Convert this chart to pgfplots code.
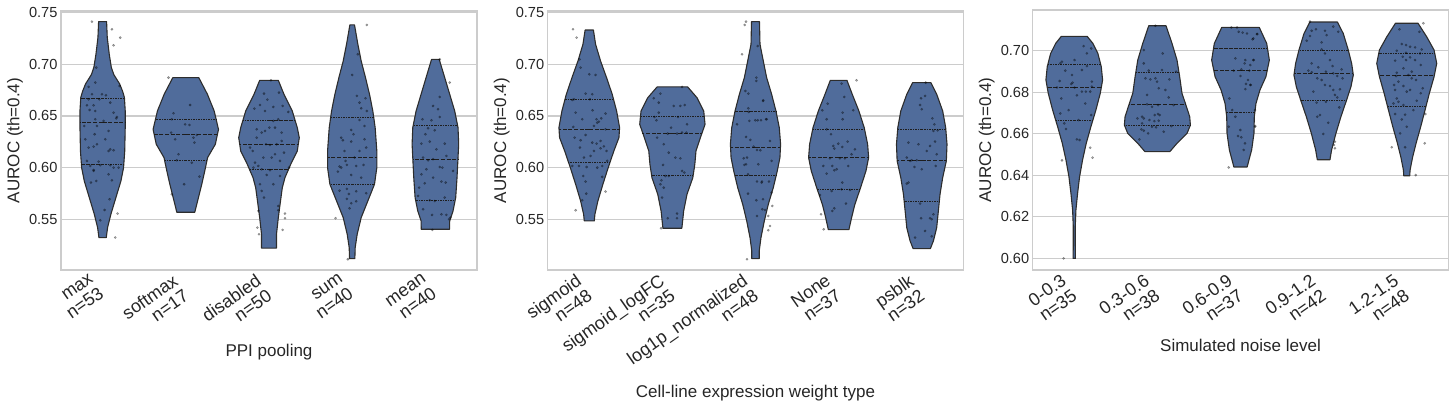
\documentclass[border=0pt]{standalone}
\usepackage{pgfplots}
\pgfplotsset{compat=1.18}
\usepackage{pgfplotstable}
\usepackage{fontspec}
\setmainfont{Liberation Sans}
\definecolor{vfill}{RGB}{80,108,155}
\definecolor{vedge}{RGB}{45,45,45}
\definecolor{qline}{RGB}{30,30,30}
\definecolor{gridc}{RGB}{204,204,204}
\definecolor{txt}{RGB}{38,38,38}

% ---------- violin outlines: y, half-width ----------
\pgfplotstableread[row sep=\\]{y w\\ 0.5322 0.044\\ 0.542 0.060\\ 0.555 0.100\\ 0.571 0.160\\ 0.587 0.220\\ 0.600 0.252\\ 0.616 0.266\\ 0.639 0.272\\ 0.655 0.272\\ 0.668 0.262\\ 0.674 0.240\\ 0.681 0.205\\ 0.690 0.135\\ 0.697 0.105\\ 0.7097 0.080\\ 0.726 0.056\\ 0.7413 0.048\\}\vAa
\pgfplotstableread[row sep=\\]{y w\\ 0.5568 0.108\\ 0.571 0.152\\ 0.5839 0.192\\ 0.5968 0.228\\ 0.6097 0.262\\ 0.6226 0.355\\ 0.637 0.393\\ 0.6548 0.341\\ 0.671 0.260\\ 0.6871 0.156\\}\vAb
\pgfplotstableread[row sep=\\]{y w\\ 0.522 0.090\\ 0.5355 0.090\\ 0.5516 0.112\\ 0.571 0.144\\ 0.5806 0.160\\ 0.5903 0.192\\ 0.6032 0.261\\ 0.6161 0.340\\ 0.629 0.364\\ 0.6387 0.340\\ 0.6548 0.280\\ 0.671 0.180\\ 0.6845 0.112\\}\vAc
\pgfplotstableread[row sep=\\]{y w\\ 0.5119 0.032\\ 0.5226 0.036\\ 0.5355 0.060\\ 0.5516 0.108\\ 0.5677 0.188\\ 0.5839 0.268\\ 0.600 0.296\\ 0.6161 0.296\\ 0.6387 0.276\\ 0.6548 0.248\\ 0.671 0.208\\ 0.6871 0.160\\ 0.7032 0.108\\ 0.7194 0.068\\ 0.7381 0.028\\}\vAd
\pgfplotstableread[row sep=\\]{y w\\ 0.5403 0.170\\ 0.5484 0.172\\ 0.558 0.212\\ 0.571 0.244\\ 0.5903 0.260\\ 0.6226 0.280\\ 0.6387 0.272\\ 0.6548 0.232\\ 0.671 0.172\\ 0.6871 0.112\\ 0.7048 0.046\\}\vAe

\pgfplotstableread[row sep=\\]{y w\\ 0.5484 0.060\\ 0.5548 0.068\\ 0.5677 0.104\\ 0.5839 0.164\\ 0.6 0.228\\ 0.6161 0.296\\ 0.629 0.357\\ 0.6387 0.365\\ 0.6548 0.329\\ 0.671 0.276\\ 0.6871 0.208\\ 0.7032 0.136\\ 0.7194 0.076\\ 0.7332 0.050\\}\vBa
\pgfplotstableread[row sep=\\]{y w\\ 0.5413 0.114\\ 0.5581 0.136\\ 0.5742 0.176\\ 0.5903 0.246\\ 0.6032 0.270\\ 0.6161 0.284\\ 0.629 0.337\\ 0.6419 0.393\\ 0.6548 0.377\\ 0.6677 0.296\\ 0.6781 0.184\\}\vBb
\pgfplotstableread[row sep=\\]{y w\\ 0.5119 0.045\\ 0.5194 0.045\\ 0.5323 0.066\\ 0.5484 0.106\\ 0.5645 0.154\\ 0.5806 0.214\\ 0.5968 0.262\\ 0.6097 0.294\\ 0.6226 0.302\\ 0.6387 0.286\\ 0.6548 0.246\\ 0.671 0.194\\ 0.6871 0.134\\ 0.7032 0.094\\ 0.7194 0.054\\ 0.7413 0.048\\}\vBc
\pgfplotstableread[row sep=\\]{y w\\ 0.54 0.124\\ 0.5516 0.156\\ 0.5645 0.196\\ 0.5806 0.264\\ 0.5968 0.329\\ 0.6097 0.361\\ 0.6226 0.349\\ 0.6387 0.308\\ 0.6548 0.244\\ 0.671 0.164\\ 0.6845 0.100\\}\vBd
\pgfplotstableread[row sep=\\]{y w\\ 0.5216 0.104\\ 0.529 0.140\\ 0.5419 0.180\\ 0.5581 0.200\\ 0.5742 0.220\\ 0.5903 0.252\\ 0.6065 0.296\\ 0.6226 0.304\\ 0.6387 0.288\\ 0.6548 0.252\\ 0.671 0.180\\ 0.6823 0.110\\}\vBe

\pgfplotstableread[row sep=\\]{y w\\ 0.600 0.014\\ 0.6072 0.012\\ 0.6153 0.012\\ 0.6233 0.020\\ 0.6313 0.040\\ 0.6393 0.064\\ 0.6474 0.100\\ 0.6554 0.144\\ 0.6634 0.200\\ 0.6714 0.260\\ 0.6795 0.313\\ 0.6859 0.341\\ 0.6923 0.325\\ 0.6987 0.284\\ 0.7035 0.224\\ 0.7069 0.156\\}\vCa
\pgfplotstableread[row sep=\\]{y w\\ 0.6514 0.150\\ 0.6554 0.236\\ 0.6602 0.357\\ 0.6642 0.397\\ 0.6682 0.389\\ 0.6746 0.337\\ 0.6795 0.296\\ 0.6875 0.268\\ 0.6955 0.236\\ 0.7035 0.176\\ 0.712 0.104\\}\vCb
\pgfplotstableread[row sep=\\]{y w\\ 0.644 0.080\\ 0.6474 0.102\\ 0.6522 0.134\\ 0.6602 0.162\\ 0.6682 0.166\\ 0.6746 0.186\\ 0.6811 0.234\\ 0.6875 0.306\\ 0.6955 0.347\\ 0.7035 0.315\\ 0.7112 0.226\\}\vCc
\pgfplotstableread[row sep=\\]{y w\\ 0.6475 0.076\\ 0.6522 0.096\\ 0.6602 0.148\\ 0.6682 0.208\\ 0.6762 0.276\\ 0.6827 0.329\\ 0.6883 0.357\\ 0.6939 0.337\\ 0.7003 0.297\\ 0.7083 0.236\\ 0.7138 0.166\\}\vCd
\pgfplotstableread[row sep=\\]{y w\\ 0.6398 0.036\\ 0.6425 0.040\\ 0.649 0.072\\ 0.6554 0.112\\ 0.6634 0.168\\ 0.6714 0.220\\ 0.6795 0.272\\ 0.6875 0.329\\ 0.6939 0.361\\ 0.7003 0.329\\ 0.7067 0.240\\ 0.7132 0.136\\}\vCe

% build closed outlines: right side upwards, then left side downwards (column s = signed half-width)
\newcommand{\mkv}[1]{%
  \pgfplotstablesort[sort key=y, sort cmp={float >}]{\tmprev}{#1}%
  \pgfplotstablecreatecol[expr={-\thisrow{w}}]{s}{\tmprev}%
  \pgfplotstablecreatecol[expr={\thisrow{w}}]{s}{#1}%
  \pgfplotstablevertcat{#1}{\tmprev}%
}
\mkv{\vAa}\mkv{\vAb}\mkv{\vAc}\mkv{\vAd}\mkv{\vAe}
\mkv{\vBa}\mkv{\vBb}\mkv{\vBc}\mkv{\vBd}\mkv{\vBe}
\mkv{\vCa}\mkv{\vCb}\mkv{\vCc}\mkv{\vCd}\mkv{\vCe}

% ---------- quartiles: upper (a), median (m), lower (b) with half-widths ----------
\pgfplotstableread[row sep=\\]{c qa wa qm wm qb wb\\
0 0.667 0.257 0.6439 0.272 0.6026 0.254\\
1 0.6468 0.364 0.6316 0.381 0.6071 0.255\\
2 0.6455 0.315 0.6219 0.351 0.598 0.233\\
3 0.6484 0.259 0.6094 0.296 0.5839 0.268\\
4 0.6406 0.267 0.6077 0.271 0.5677 0.236\\}\qA
\pgfplotstableread[row sep=\\]{c qa wa qm wm qb wb\\
0 0.6661 0.292 0.6371 0.364 0.6052 0.250\\
1 0.649 0.385 0.6332 0.360 0.5922 0.250\\
2 0.6545 0.247 0.6197 0.300 0.5922 0.245\\
3 0.6371 0.312 0.6094 0.360 0.579 0.257\\
4 0.6371 0.290 0.6071 0.296 0.5671 0.211\\}\qB
\pgfplotstableread[row sep=\\]{c qa wa qm wm qb wb\\
0 0.6934 0.318 0.6822 0.325 0.6666 0.224\\
1 0.6896 0.260 0.674 0.340 0.6642 0.397\\
2 0.701 0.325 0.6904 0.321 0.6703 0.173\\
3 0.70 0.299 0.6888 0.355 0.6758 0.273\\
4 0.6987 0.337 0.6881 0.332 0.6729 0.230\\}\qC

% ---------- strip points: category, jitter, value ----------
\pgfplotstableread[row sep=\\]{c dx y\\
0 -0.128 0.7413\\ 0 0.112 0.7339\\ 0 0.212 0.7258\\ 0 0.132 0.7184\\ 0 -0.076 0.6968\\ 0 -0.088 0.6823\\ 0 -0.168 0.6781\\ 0 -0.128 0.671\\ 0 -0.008 0.671\\ 0 0.04 0.67\\
0 -0.04 0.6661\\ 0 -0.168 0.6661\\ 0 -0.188 0.6603\\ 0 -0.108 0.6603\\ 0 -0.088 0.6548\\ 0 -0.156 0.6558\\ 0 0.092 0.6629\\ 0 0.204 0.679\\ 0 0.132 0.6532\\ 0 0.172 0.649\\
0 0.164 0.6477\\ 0 0.012 0.6452\\ 0 -0.088 0.6468\\ 0 -0.22 0.6403\\ 0 -0.096 0.6323\\ 0 -0.068 0.6226\\ 0 -0.108 0.6203\\ 0 -0.168 0.6194\\ 0 0.092 0.6177\\ 0 0.132 0.6168\\
0 0.072 0.6161\\ 0 -0.188 0.6065\\ 0 -0.048 0.6058\\ 0 0.092 0.6023\\ 0 -0.028 0.6023\\ 0 0.132 0.6\\ 0 -0.108 0.5977\\ 0 -0.108 0.5968\\ 0 0.072 0.5935\\ 0 0.112 0.5877\\
0 -0.14 0.5855\\ 0 -0.076 0.5871\\ 0 0.084 0.5694\\ 0 0.024 0.559\\ 0 0.18 0.5555\\ 0 -0.028 0.549\\ 0 0.152 0.5323\\ 0 -0.148 0.6016\\ 0 0.192 0.6\\ 0 -0.208 0.6274\\
0 0.032 0.6274\\ 0 -0.068 0.6403\\ 0 0.072 0.6355\\
1 -0.208 0.6871\\ 1 0.052 0.6606\\ 1 -0.148 0.6526\\ 1 -0.168 0.6468\\ 1 -0.008 0.6419\\ 1 0.044 0.6413\\ 1 -0.176 0.6339\\ 1 -0.128 0.6274\\ 1 0.092 0.629\\ 1 0.132 0.6316\\
1 0.104 0.6242\\ 1 -0.108 0.6071\\ 1 -0.02 0.5839\\ 1 0.164 0.5913\\ 1 -0.168 0.5742\\ 1 -0.088 0.6129\\ 1 0.072 0.6048\\
2 0.024 0.6845\\ 2 -0.06 0.6716\\ 2 -0.02 0.6658\\ 2 -0.108 0.6606\\ 2 -0.176 0.6571\\ 2 -0.048 0.6548\\ 2 0.052 0.6587\\ 2 0.12 0.6726\\ 2 0.164 0.6597\\ 2 0.232 0.6539\\
2 0.112 0.6468\\ 2 0.052 0.6452\\ 2 -0.148 0.6371\\ 2 -0.088 0.6339\\ 2 -0.048 0.6355\\ 2 0.004 0.6387\\ 2 0.072 0.6387\\ 2 0.152 0.6339\\ 2 -0.196 0.6161\\ 2 -0.228 0.6194\\
2 -0.036 0.6226\\ 2 0.012 0.6219\\ 2 0.092 0.6226\\ 2 0.152 0.6258\\ 2 0.18 0.6145\\ 2 -0.168 0.6048\\ 2 -0.128 0.6016\\ 2 -0.188 0.6\\ 2 -0.088 0.5984\\ 2 0.012 0.5974\\
2 -0.028 0.5929\\ 2 0.132 0.5919\\ 2 -0.088 0.5774\\ 2 -0.06 0.571\\ 2 -0.128 0.5581\\ 2 0.112 0.5629\\ 2 0.112 0.5587\\ 2 0.192 0.5555\\ 2 0.192 0.551\\ 2 0.164 0.5397\\
2 -0.14 0.5419\\ 2 -0.12 0.5355\\ 2 0.072 0.6129\\ 2 -0.068 0.6097\\ 2 0.032 0.6097\\ 2 -0.108 0.5839\\ 2 0.052 0.5839\\ 2 0.132 0.6065\\ 2 0.24 0.6\\ 2 -0.148 0.629\\
3 0.176 0.7381\\ 3 0.068 0.7097\\ 3 0.0 0.6897\\ 3 0.056 0.6694\\ 3 0.16 0.6671\\ 3 0.088 0.6629\\ 3 0.108 0.6574\\ 3 0.176 0.6548\\ 3 0.088 0.6461\\ 3 0.148 0.6403\\
3 -0.132 0.629\\ 3 -0.112 0.6265\\ 3 -0.012 0.6365\\ 3 0.016 0.6323\\ 3 -0.012 0.6252\\ 3 0.148 0.6274\\ 3 0.028 0.6097\\ 3 -0.08 0.6065\\ 3 -0.152 0.601\\ 3 -0.132 0.6\\
3 -0.064 0.6026\\ 3 0.048 0.6016\\ 3 0.136 0.6026\\ 3 -0.172 0.5961\\ 3 -0.012 0.5929\\ 3 0.108 0.5903\\ 3 -0.152 0.5777\\ 3 -0.064 0.5794\\ 3 0.048 0.5771\\ 3 0.168 0.5752\\
3 -0.04 0.5745\\ 3 -0.064 0.5697\\ 3 -0.012 0.5655\\ 3 0.048 0.5674\\ 3 -0.032 0.5606\\ 3 -0.2 0.551\\ 3 -0.052 0.5113\\ 3 0.088 0.6161\\ 3 -0.092 0.6161\\ 3 0.168 0.6194\\
4 0.052 0.7048\\ 4 0.172 0.6823\\ 4 0.052 0.6684\\ 4 -0.028 0.6597\\ 4 0.032 0.6565\\ 4 0.052 0.649\\ 4 -0.156 0.6468\\ 4 -0.048 0.6458\\ 4 -0.088 0.6381\\ 4 -0.12 0.6323\\
4 -0.008 0.6361\\ 4 -0.068 0.6252\\ 4 -0.168 0.6232\\ 4 0.112 0.6232\\ 4 0.012 0.6177\\ 4 -0.028 0.6081\\ 4 -0.088 0.6071\\ 4 -0.148 0.6097\\ 4 0.052 0.6006\\ 4 0.084 0.6\\
4 -0.168 0.5935\\ 4 -0.028 0.5903\\ 4 0.072 0.5865\\ 4 0.124 0.5855\\ 4 -0.128 0.5848\\ 4 -0.196 0.5806\\ 4 0.112 0.571\\ 4 -0.148 0.5597\\ 4 -0.068 0.5684\\ 4 -0.008 0.5677\\
4 -0.04 0.5542\\ 4 0.072 0.5548\\ 4 0.132 0.5542\\ 4 0.164 0.55\\ 4 0.18 0.5516\\ 4 -0.036 0.5397\\ 4 -0.208 0.5726\\ 4 0.212 0.5968\\ 4 -0.108 0.5984\\ 4 0.132 0.6113\\
}\pA
\pgfplotstableread[row sep=\\]{c dx y\\
0 -0.196 0.7339\\ 0 -0.152 0.7258\\ 0 -0.116 0.7048\\ 0 -0.104 0.6968\\ 0 0.0 0.6903\\ 0 0.076 0.6897\\ 0 0.036 0.671\\ 0 -0.044 0.6716\\ 0 0.008 0.6661\\ 0 -0.184 0.6661\\
0 -0.204 0.6655\\ 0 -0.164 0.6532\\ 0 0.04 0.6555\\ 0 0.196 0.6523\\ 0 -0.084 0.6468\\ 0 0.088 0.6468\\ 0 0.116 0.6445\\ 0 0.144 0.6477\\ 0 0.056 0.6403\\ 0 -0.192 0.6394\\
0 0.196 0.6371\\ 0 0.096 0.6435\\ 0 -0.176 0.629\\ 0 -0.104 0.6265\\ 0 -0.044 0.6316\\ 0 0.036 0.6242\\ 0 0.088 0.6232\\ 0 0.136 0.6258\\ 0 0.176 0.6206\\ 0 0.208 0.6161\\
0 0.016 0.6113\\ 0 -0.204 0.6016\\ 0 -0.124 0.6016\\ 0 -0.032 0.6006\\ 0 0.156 0.6016\\ 0 0.216 0.6065\\ 0 -0.072 0.5919\\ 0 0.156 0.591\\ 0 -0.044 0.5865\\ 0 -0.036 0.5748\\
0 -0.084 0.5684\\ 0 -0.164 0.5587\\ 0 0.196 0.5768\\ 0 0.136 0.6187\\ 0 -0.112 0.6194\\ 0 0.056 0.6161\\ 0 -0.064 0.6097\\ 0 0.096 0.6\\
1 0.116 0.6781\\ 1 -0.144 0.6716\\ 1 -0.224 0.6671\\ 1 -0.164 0.6629\\ 1 0.016 0.6597\\ 1 0.096 0.6597\\ 1 0.148 0.6606\\ 1 -0.164 0.6532\\ 1 -0.216 0.649\\ 1 -0.192 0.6458\\
1 0.068 0.649\\ 1 -0.016 0.6387\\ 1 0.056 0.6329\\ 1 0.116 0.6339\\ 1 0.168 0.6339\\ 1 -0.056 0.6329\\ 1 -0.184 0.629\\ 1 -0.044 0.6145\\ 1 0.096 0.609\\ 1 -0.112 0.6026\\
1 0.116 0.5968\\ 1 0.144 0.5952\\ 1 -0.084 0.5919\\ 1 -0.044 0.5919\\ 1 -0.132 0.5877\\ 1 -0.144 0.5839\\ 1 -0.104 0.5806\\ 1 -0.124 0.571\\ 1 -0.056 0.551\\ 1 0.056 0.5555\\
1 0.056 0.551\\ 1 -0.136 0.5413\\ 1 0.176 0.6419\\ 1 -0.104 0.6226\\ 1 0.036 0.6097\\
2 -0.114 0.7413\\ 2 -0.13 0.7381\\ 2 -0.162 0.7097\\ 2 0.026 0.7177\\ 2 0.01 0.6871\\ 2 0.01 0.6839\\ 2 -0.122 0.6742\\ 2 -0.086 0.6716\\ 2 -0.086 0.6574\\ 2 -0.082 0.6539\\
2 -0.074 0.6452\\ 2 -0.002 0.6458\\ 2 0.026 0.6458\\ 2 0.066 0.6458\\ 2 0.126 0.6468\\ 2 0.09 0.6645\\ 2 -0.222 0.6419\\ 2 -0.114 0.6297\\ 2 -0.062 0.6268\\ 2 -0.102 0.6097\\
2 -0.142 0.609\\ 2 -0.114 0.6032\\ 2 -0.134 0.6026\\ 2 -0.022 0.6203\\ 2 0.018 0.6171\\ 2 0.058 0.6168\\ 2 -0.09 0.5935\\ 2 -0.09 0.5748\\ 2 0.018 0.5865\\ 2 0.078 0.5865\\
2 0.01 0.5684\\ 2 0.09 0.5694\\ 2 0.018 0.5532\\ 2 -0.102 0.5113\\ 2 0.094 0.6652\\ 2 0.134 0.6468\\ 2 0.174 0.6258\\ 2 0.194 0.6065\\ 2 0.074 0.5855\\ 2 0.162 0.5865\\
2 0.194 0.5758\\ 2 0.082 0.5597\\ 2 0.114 0.559\\ 2 0.202 0.5629\\ 2 0.154 0.5532\\ 2 0.174 0.5435\\ 2 0.154 0.5394\\ 2 0.034 0.6032\\
3 0.216 0.6845\\ 3 0.036 0.6813\\ 3 0.068 0.6684\\ 3 -0.132 0.6619\\ 3 -0.196 0.6555\\ 3 0.048 0.6532\\ 3 0.176 0.6555\\ 3 -0.144 0.6468\\ 3 0.048 0.6468\\ 3 -0.144 0.6371\\
3 -0.092 0.6323\\ 3 0.108 0.6252\\ 3 -0.004 0.6232\\ 3 -0.064 0.621\\ 3 -0.052 0.6184\\ 3 0.044 0.62\\ 3 0.196 0.6177\\ 3 -0.104 0.609\\ 3 0.016 0.609\\ 3 0.076 0.609\\
3 -0.184 0.6016\\ 3 -0.076 0.6016\\ 3 0.116 0.6016\\ 3 -0.024 0.5984\\ 3 -0.052 0.5974\\ 3 -0.144 0.5942\\ 3 0.044 0.5855\\ 3 0.036 0.579\\ 3 0.136 0.5784\\ 3 -0.224 0.5735\\
3 0.088 0.5652\\ 3 -0.052 0.5606\\ 3 -0.076 0.5581\\ 3 -0.212 0.5548\\ 3 -0.18 0.5403\\ 3 -0.084 0.5774\\ 3 0.156 0.6129\\
4 0.048 0.6823\\ 4 -0.008 0.6671\\ 4 0.04 0.6694\\ 4 -0.02 0.6606\\ 4 0.0 0.6565\\ 4 0.128 0.6477\\ 4 0.152 0.6419\\ 4 0.192 0.6361\\ 4 0.14 0.6355\\ 4 -0.16 0.6242\\
4 -0.04 0.6226\\ 4 0.16 0.6252\\ 4 0.1 0.621\\ 4 -0.18 0.6097\\ 4 -0.12 0.6071\\ 4 -0.14 0.6065\\ 4 -0.06 0.6071\\ 4 -0.088 0.6006\\ 4 0.0 0.5984\\ 4 0.168 0.6016\\
4 -0.16 0.5855\\ 4 -0.18 0.5845\\ 4 -0.02 0.5652\\ 4 -0.008 0.551\\ 4 0.1 0.551\\ 4 0.12 0.55\\ 4 0.14 0.5548\\ 4 0.04 0.5387\\ 4 -0.08 0.5323\\ 4 0.12 0.5335\\
4 0.18 0.6129\\ 4 0.06 0.6161\\
}\pB
\pgfplotstableread[row sep=\\]{c dx y\\
0 0.112 0.7022\\ 0 0.152 0.6987\\ 0 0.204 0.7011\\ 0 -0.148 0.6947\\ 0 -0.168 0.6939\\ 0 -0.108 0.6904\\ 0 0.004 0.6955\\ 0 0.092 0.6907\\ 0 -0.028 0.6883\\ 0 -0.176 0.6854\\
0 -0.02 0.6846\\ 0 -0.036 0.684\\ 0 0.212 0.6851\\ 0 0.152 0.6926\\ 0 -0.208 0.6823\\ 0 0.004 0.6822\\ 0 0.092 0.6803\\ 0 0.192 0.6803\\ 0 0.14 0.6803\\ 0 0.032 0.6785\\
0 -0.156 0.677\\ 0 0.212 0.6827\\ 0 -0.168 0.6698\\ 0 -0.12 0.665\\ 0 0.204 0.669\\ 0 -0.1 0.6623\\ 0 0.032 0.6573\\ 0 0.064 0.657\\ 0 0.192 0.6533\\ 0 0.22 0.6485\\
0 -0.148 0.6472\\ 0 -0.128 0.6\\ 0 0.052 0.6666\\ 0 -0.068 0.6714\\ 0 0.132 0.6746\\
1 -0.024 0.712\\ 1 -0.164 0.7003\\ 1 0.064 0.6987\\ 1 -0.164 0.6939\\ 1 -0.104 0.6904\\ 1 -0.144 0.6867\\ 1 -0.084 0.6862\\ 1 -0.024 0.6867\\ 1 -0.004 0.6851\\ 1 0.016 0.6819\\
1 0.144 0.6862\\ 1 0.224 0.6899\\ 1 0.136 0.6775\\ 1 -0.124 0.6742\\ 1 0.008 0.6738\\ 1 0.196 0.6738\\ 1 -0.184 0.6682\\ 1 -0.164 0.6674\\ 1 -0.032 0.669\\ 1 0.028 0.669\\
1 -0.096 0.6666\\ 1 -0.036 0.6661\\ 1 0.016 0.6663\\ 1 -0.192 0.6621\\ 1 -0.164 0.6615\\ 1 -0.112 0.6602\\ 1 -0.216 0.6573\\ 1 -0.064 0.6634\\ 1 0.076 0.661\\ 1 0.168 0.6637\\
1 0.008 0.6695\\ 1 -0.064 0.673\\ 1 0.096 0.6811\\ 1 -0.124 0.6787\\ 1 0.056 0.6907\\ 1 -0.184 0.665\\ 1 -0.016 0.6631\\ 1 -0.24 0.6674\\
2 -0.11 0.7112\\ 2 -0.042 0.7112\\ 2 0.026 0.7087\\ 2 0.078 0.7083\\ 2 0.146 0.7055\\ 2 0.198 0.708\\ 2 -0.022 0.7091\\ 2 -0.062 0.6963\\ 2 0.058 0.6955\\ 2 0.05 0.6939\\
2 0.158 0.6955\\ 2 0.118 0.6931\\ 2 0.01 0.691\\ 2 -0.082 0.6904\\ 2 0.0 0.6878\\ 2 0.09 0.6859\\ 2 0.066 0.684\\ 2 0.118 0.6835\\ 2 0.058 0.6815\\ 2 -0.134 0.677\\
2 -0.142 0.6634\\ 2 -0.002 0.6618\\ 2 -0.03 0.6589\\ 2 0.01 0.6583\\ 2 0.038 0.6522\\ 2 -0.142 0.6438\\ 2 0.178 0.6637\\ 2 0.202 0.708\\ 2 0.154 0.7059\\ 2 0.154 0.6955\\
2 0.106 0.6904\\ 2 0.122 0.6835\\ 2 0.174 0.6634\\ 2 0.054 0.6554\\ 2 0.174 0.6714\\ 2 -0.1 0.6714\\ 2 -0.062 0.6682\\
3 -0.164 0.714\\ 3 -0.092 0.7103\\ 3 -0.144 0.7096\\ 3 0.016 0.7096\\ 3 0.116 0.7116\\ 3 0.176 0.7091\\ 3 -0.164 0.7071\\ 3 0.036 0.7075\\ 3 -0.204 0.7048\\ 3 -0.024 0.704\\
3 0.016 0.6987\\ 3 -0.024 0.7006\\ 3 -0.144 0.6939\\ 3 -0.064 0.692\\ 3 0.108 0.6926\\ 3 0.216 0.691\\ 3 0.028 0.6899\\ 3 -0.184 0.6904\\ 3 -0.144 0.6896\\ 3 0.116 0.6891\\
3 0.164 0.6878\\ 3 0.228 0.6867\\ 3 -0.076 0.6867\\ 3 -0.024 0.6859\\ 3 0.016 0.6835\\ 3 0.076 0.683\\ 3 0.116 0.6811\\ 3 0.196 0.6814\\ 3 0.136 0.6787\\ 3 0.164 0.6775\\
3 -0.084 0.675\\ 3 0.028 0.6754\\ 3 0.188 0.6727\\ 3 -0.044 0.669\\ 3 -0.076 0.6682\\ 3 0.056 0.6653\\ 3 -0.004 0.6599\\ 3 0.136 0.6562\\ 3 0.124 0.6546\\ 3 0.136 0.653\\
3 0.076 0.6955\\ 3 -0.124 0.6803\\
4 0.2 0.7132\\ 4 -0.088 0.7103\\ 4 0.152 0.7091\\ 4 -0.06 0.7032\\ 4 -0.008 0.7027\\ 4 0.04 0.7019\\ 4 0.1 0.7016\\ 4 0.18 0.7006\\ 4 0.16 0.6987\\ 4 -0.12 0.70\\
4 -0.008 0.699\\ 4 -0.048 0.6971\\ 4 0.04 0.6968\\ 4 -0.14 0.6952\\ 4 0.168 0.6931\\ 4 -0.008 0.6955\\ 4 -0.04 0.6915\\ 4 0.06 0.6899\\ 4 -0.12 0.6894\\ 4 0.02 0.6883\\
4 -0.128 0.6878\\ 4 -0.1 0.6851\\ 4 0.06 0.6867\\ 4 -0.04 0.683\\ 4 0.112 0.6859\\ 4 -0.152 0.6835\\ 4 0.192 0.6819\\ 4 -0.14 0.6811\\ 4 0.0 0.6803\\ 4 0.12 0.6759\\
4 -0.12 0.677\\ 4 0.168 0.6795\\ 4 -0.1 0.6754\\ 4 -0.04 0.6738\\ 4 -0.14 0.6695\\ 4 -0.02 0.6692\\ 4 -0.06 0.6669\\ 4 0.224 0.6695\\ 4 -0.08 0.6602\\ 4 -0.18 0.6535\\
4 -0.02 0.6535\\ 4 0.216 0.6554\\ 4 0.108 0.6401\\ 4 0.0 0.6634\\ 4 0.08 0.6714\\ 4 0.04 0.6811\\ 4 -0.16 0.6746\\ 4 0.1 0.6955\\
}\pC

\newcommand{\violin}[2]{%
  \addplot[fill=vfill, draw=vedge, line width=1.1pt, line join=round, mark=none, forget plot]
    table[x expr=#1+\thisrow{s}, y=y] {#2} -- cycle;
}
\newcommand{\quarts}[1]{%
  \addplot[draw=none, mark=none, forget plot, error bars/.cd, x dir=both, x explicit, error mark=none,
    error bar style={draw=qline, line width=1pt, dash pattern=on 1.6pt off 0.9pt}]
    table[x=c, y=qa, x error=wa] {#1};
  \addplot[draw=none, mark=none, forget plot, error bars/.cd, x dir=both, x explicit, error mark=none,
    error bar style={draw=qline, line width=1pt, dash pattern=on 4pt off 1.6pt}]
    table[x=c, y=qm, x error=wm] {#1};
  \addplot[draw=none, mark=none, forget plot, error bars/.cd, x dir=both, x explicit, error mark=none,
    error bar style={draw=qline, line width=1pt, dash pattern=on 1.6pt off 0.9pt}]
    table[x=c, y=qb, x error=wb] {#1};
}
\newcommand{\strip}[1]{%
  \addplot[only marks, mark=*, mark size=1.15pt, forget plot,
    mark options={draw=none, fill=black, opacity=0.33}]
    table[x expr=\thisrow{c}+\thisrow{dx}, y=y] {#1};
}

\pgfplotsset{panel/.style={
  scale only axis, anchor=south west,
  xmin=-0.5, xmax=4.5, xtick={0,1,2,3,4},
  ymajorgrids, grid style={gridc, line width=1.1pt},
  axis line style={gridc, line width=1.3pt},
  major tick length=0pt, tick style={draw=none},
  yticklabel style={font=\fontsize{14.6}{17.2}\selectfont, text=txt,
    /pgf/number format/fixed, /pgf/number format/fixed zerofill,
    /pgf/number format/precision=2, /pgf/number format/assume math mode=true},
  xticklabel style={font=\fontsize{18}{18.5}\selectfont, text=txt,
    inner sep=0pt, align=right, xshift=-14pt, yshift=-3pt, rotate=35, anchor=north east},
  every axis y label/.style={at={(axis description cs:0,0.5)}, xshift=-46pt, rotate=90, anchor=center,
    font=\fontsize{17}{20}\selectfont, text=txt},
  ylabel={AUROC (th=0.4)},
}}

\begin{document}
\begin{tikzpicture}
\begin{axis}[panel, at={(61pt,139pt)}, width=416pt, height=259pt,
  ymin=0.5009, ymax=0.7516, ytick={0.55,0.60,0.65,0.70,0.75},
  xticklabels={{max\\n=53},{softmax\\n=17},{disabled\\n=50},{sum\\n=40},{mean\\n=40}},
  every axis x label/.style={at={(axis description cs:0.5,0)}, yshift=-81.7pt, anchor=center,
    font=\fontsize{17}{20}\selectfont, text=txt},
  xlabel={PPI pooling}]
\violin{0}{\vAa}
\violin{1}{\vAb}
\violin{2}{\vAc}
\violin{3}{\vAd}
\violin{4}{\vAe}
\quarts{\qA}
\strip{\pA}
\end{axis}

\begin{axis}[panel, at={(547.7pt,139pt)}, width=415.6pt, height=259pt,
  ymin=0.5009, ymax=0.7516, ytick={0.55,0.60,0.65,0.70,0.75},
  xticklabels={{sigmoid\\n=48},{sigmoid\_logFC\\n=35},{log1p\_normalized\\n=48},{None\\n=37},{psblk\\n=32}},
  every axis x label/.style={at={(axis description cs:0.5,0)}, yshift=-122.7pt, anchor=center,
    font=\fontsize{17}{20}\selectfont, text=txt},
  xlabel={Cell-line expression weight type}]
\violin{0}{\vBa}
\violin{1}{\vBb}
\violin{2}{\vBc}
\violin{3}{\vBd}
\violin{4}{\vBe}
\quarts{\qB}
\strip{\pB}
\end{axis}

\begin{axis}[panel, at={(1032.7pt,139pt)}, width=415.6pt, height=260pt,
  ymin=0.5944, ymax=0.7196, ytick={0.60,0.62,0.64,0.66,0.68,0.70},
  xticklabels={{0-0.3\\n=35},{0.3-0.6\\n=38},{0.6-0.9\\n=37},{0.9-1.2\\n=42},{1.2-1.5\\n=48}},
  every axis x label/.style={at={(axis description cs:0.5,0)}, yshift=-75pt, anchor=center,
    font=\fontsize{17}{20}\selectfont, text=txt},
  xlabel={Simulated noise level}]
\violin{0}{\vCa}
\violin{1}{\vCb}
\violin{2}{\vCc}
\violin{3}{\vCd}
\violin{4}{\vCe}
\quarts{\qC}
\strip{\pC}
\end{axis}
\pgfresetboundingbox
\useasboundingbox (0,0) rectangle (1456pt,409pt);
\end{tikzpicture}
\end{document}
